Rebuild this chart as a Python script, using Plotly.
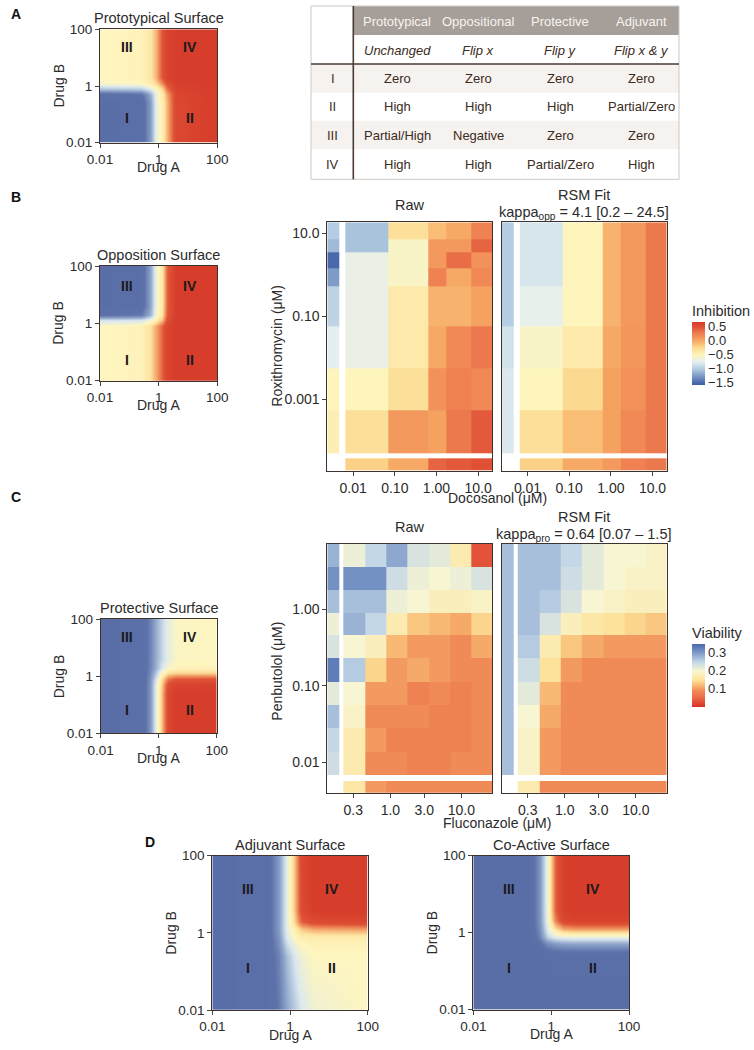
import plotly.graph_objects as go

W, H = 754, 1050
def px(x): return x / W
def py(y): return 1 - y / H

N = None
# ---------------- data ----------------
# Theoretical surfaces: log10 dose grid (Drug A = x, Drug B = y); 0 = blue, 0.5 = yellow, 1 = red
G = [-2, -0.6, -0.3, -0.1, 0.1, 0.3, 0.6, 2]
proto_z = [  # rows bottom -> top
    [0.00, 0.03, 0.22, 0.44, 0.54, 0.68, 0.92, 1],
    [0.00, 0.03, 0.22, 0.44, 0.54, 0.68, 0.92, 1],
    [0.05, 0.09, 0.26, 0.45, 0.56, 0.70, 0.93, 1],
    [0.30, 0.32, 0.40, 0.50, 0.60, 0.78, 0.95, 1],
    [0.48, 0.50, 0.55, 0.62, 0.74, 0.88, 0.98, 1],
    [0.50, 0.52, 0.58, 0.68, 0.85, 0.96, 1, 1],
    [0.50, 0.52, 0.58, 0.68, 0.85, 0.96, 1, 1],
    [0.50, 0.52, 0.58, 0.68, 0.85, 0.96, 1, 1],
]
oppo_z = [
    [0.50, 0.52, 0.60, 0.70, 0.82, 0.95, 1, 1],
    [0.50, 0.52, 0.60, 0.70, 0.82, 0.95, 1, 1],
    [0.50, 0.52, 0.60, 0.70, 0.82, 0.95, 1, 1],
    [0.50, 0.52, 0.60, 0.70, 0.82, 0.95, 1, 1],
    [0.38, 0.39, 0.46, 0.55, 0.66, 0.88, 1, 1],
    [0.10, 0.13, 0.28, 0.47, 0.60, 0.84, 1, 1],
    [0.00, 0.04, 0.24, 0.46, 0.58, 0.82, 1, 1],
    [0.00, 0.04, 0.24, 0.46, 0.58, 0.82, 1, 1],
]
prot_z = [
    [0, 0.03, 0.20, 0.43, 0.66, 0.92, 1, 1],
    [0, 0.03, 0.20, 0.43, 0.66, 0.92, 1, 1],
    [0, 0.03, 0.20, 0.43, 0.64, 0.88, 0.96, 0.97],
    [0, 0.03, 0.19, 0.39, 0.60, 0.78, 0.85, 0.86],
    [0, 0.03, 0.17, 0.33, 0.50, 0.60, 0.63, 0.63],
    [0, 0.03, 0.15, 0.28, 0.40, 0.48, 0.52, 0.52],
    [0, 0.03, 0.15, 0.27, 0.36, 0.43, 0.49, 0.50],
    [0, 0.03, 0.15, 0.27, 0.36, 0.43, 0.49, 0.50],
]
adju_z = [
    [0, 0.03, 0.12, 0.25, 0.33, 0.40, 0.46, 0.50],
    [0, 0.03, 0.15, 0.30, 0.40, 0.46, 0.50, 0.50],
    [0, 0.03, 0.18, 0.36, 0.45, 0.50, 0.52, 0.52],
    [0, 0.03, 0.20, 0.40, 0.50, 0.55, 0.56, 0.56],
    [0, 0.03, 0.22, 0.42, 0.55, 0.65, 0.70, 0.72],
    [0, 0.03, 0.22, 0.42, 0.62, 0.82, 0.90, 0.92],
    [0, 0.03, 0.22, 0.42, 0.65, 0.90, 1, 1],
    [0, 0.03, 0.22, 0.42, 0.65, 0.92, 1, 1],
]
coact_z = [
    [0, 0, 0, 0, 0, 0, 0, 0],
    [0, 0, 0, 0.02, 0.02, 0.02, 0.02, 0.02],
    [0, 0, 0.08, 0.18, 0.22, 0.24, 0.25, 0.25],
    [0, 0, 0.15, 0.35, 0.42, 0.44, 0.45, 0.45],
    [0, 0, 0.18, 0.42, 0.60, 0.70, 0.72, 0.72],
    [0, 0, 0.20, 0.45, 0.76, 0.92, 0.95, 0.95],
    [0, 0, 0.20, 0.46, 0.82, 0.98, 1, 1],
    [0, 0, 0.20, 0.46, 0.82, 0.98, 1, 1],
]

# Panel B: Docosanol (x) / Roxithromycin (y), log10 cell edges; inhibition values
B_x_edges = [-2.62, -2.34, -2.2, -1.16, -0.2, 0.24, 0.84, 1.34]
B_y_edges = [-4.73, -4.44, -4.32, -3.28, -2.25, -1.24, -0.27, 0.17, 0.54, 0.86, 1.27]
B_raw = [  # rows bottom -> top
    [N, N, -0.20, 0.00, 0.40, 0.45, 0.50],
    [N, N, N, N, N, N, N],
    [-0.45, N, -0.30, 0.10, 0.05, 0.30, 0.45],
    [-0.50, N, -0.50, -0.30, 0.15, 0.25, 0.20],
    [-0.75, N, -0.70, -0.40, 0.00, 0.20, 0.30],
    [-0.95, N, -0.70, -0.40, -0.05, -0.05, 0.05],
    [-1.25, N, -0.70, -0.55, 0.25, 0.00, 0.20],
    [-1.50, N, -0.70, -0.55, 0.10, 0.35, 0.15],
    [-1.10, N, -1.05, -0.55, 0.10, 0.10, 0.40],
    [-1.00, N, -1.05, -0.30, -0.10, 0.00, 0.25],
]
B_fit = [
    [N, N, -0.20, 0.00, 0.10, 0.25, 0.30],
    [N, N, N, N, N, N, N],
    [-0.80, N, -0.30, -0.10, 0.05, 0.20, 0.30],
    [-0.80, N, -0.50, -0.25, 0.05, 0.15, 0.30],
    [-0.85, N, -0.55, -0.40, 0.00, 0.12, 0.30],
    [-1.00, N, -0.72, -0.50, -0.05, 0.10, 0.30],
    [-1.00, N, -0.82, -0.50, -0.05, 0.10, 0.30],
    [-1.00, N, -0.82, -0.50, -0.05, 0.10, 0.30],
    [-1.00, N, -0.82, -0.50, -0.05, 0.10, 0.30],
    [-1.00, N, -0.82, -0.50, -0.05, 0.10, 0.30],
]
B_x_ticks = [-2, -1, 0, 1]
B_x_labels = ["0.01", "0.10", "1.00", "10.0"]
B_y_ticks = [1, -1, -3]
B_y_labels = ["10.0", "0.10", "0.001"]

# Panel C: Fluconazole (x) / Penbutolol (y), log10 cell edges; viability values
C_x_edges = [-0.889, -0.724, -0.664, -0.358, -0.062, 0.238, 0.548, 0.849, 1.145, 1.435]
C_y_edges = [-2.397, -2.244, -2.166, -1.861, -1.556, -1.251, -0.946, -0.641, -0.336,
             -0.052, 0.252, 0.557, 0.854]
C_raw = [  # rows bottom -> top
    [N, N, 0.16, 0.10, 0.09, 0.09, 0.09, 0.09, 0.09],
    [N, N, N, N, N, N, N, N, N],
    [0.24, N, 0.17, 0.09, 0.09, 0.08, 0.08, 0.09, 0.09],
    [0.25, N, 0.17, 0.10, 0.08, 0.08, 0.08, 0.08, 0.09],
    [0.27, N, 0.19, 0.09, 0.09, 0.09, 0.08, 0.08, 0.09],
    [0.22, N, 0.20, 0.10, 0.10, 0.08, 0.09, 0.08, 0.09],
    [0.33, N, 0.26, 0.14, 0.10, 0.11, 0.10, 0.09, 0.09],
    [0.23, N, 0.20, 0.18, 0.12, 0.10, 0.10, 0.09, 0.11],
    [0.21, N, 0.28, 0.25, 0.17, 0.13, 0.12, 0.11, 0.14],
    [0.27, N, 0.27, 0.27, 0.21, 0.20, 0.18, 0.18, 0.19],
    [0.31, N, 0.31, 0.31, 0.24, 0.21, 0.20, 0.21, 0.23],
    [0.28, N, 0.21, 0.25, 0.29, 0.23, 0.22, 0.17, 0.03],
]
C_fit = [
    [N, N, 0.17, 0.09, 0.09, 0.09, 0.09, 0.09, 0.09],
    [N, N, N, N, N, N, N, N, N],
    [0.27, N, 0.19, 0.10, 0.09, 0.09, 0.09, 0.09, 0.09],
    [0.27, N, 0.19, 0.10, 0.09, 0.09, 0.09, 0.09, 0.09],
    [0.27, N, 0.20, 0.11, 0.09, 0.09, 0.09, 0.09, 0.09],
    [0.27, N, 0.22, 0.12, 0.09, 0.09, 0.09, 0.09, 0.09],
    [0.27, N, 0.24, 0.15, 0.10, 0.09, 0.09, 0.09, 0.09],
    [0.27, N, 0.26, 0.17, 0.13, 0.11, 0.10, 0.10, 0.10],
    [0.27, N, 0.27, 0.23, 0.18, 0.16, 0.15, 0.14, 0.13],
    [0.27, N, 0.27, 0.26, 0.23, 0.20, 0.19, 0.18, 0.18],
    [0.27, N, 0.27, 0.27, 0.24, 0.22, 0.20, 0.19, 0.19],
    [0.27, N, 0.27, 0.27, 0.25, 0.22, 0.20, 0.20, 0.19],
]
C_x_ticks = [-0.5229, 0.0, 0.4771, 1.0]
C_x_labels = ["0.3", "1.0", "3.0", "10.0"]
C_y_ticks = [0, -1, -2]
C_y_labels = ["1.00", "0.10", "0.01"]

S_ticks = [-2, 0, 2]
S_labels = ["0.01", "1", "100"]

inh_ticks = [0.5, 0.0, -0.5, -1.0, -1.5]
inh_labels = ["0.5", "0.0", "\u22120.5", "\u22121.0", "\u22121.5"]
via_ticks = [0.3, 0.2, 0.1]
via_labels = ["0.3", "0.2", "0.1"]

tbl_cols = ["Prototypical", "Oppositional", "Protective", "Adjuvant"]
tbl_sub = ["Unchanged", "Flip x", "Flip y", "Flip x & y"]
tbl_rows = ["I", "II", "III", "IV"]
tbl_cells = [["Zero", "Zero", "Zero", "Zero"],
             ["High", "High", "High", "Partial/Zero"],
             ["Partial/High", "Negative", "Zero", "Zero"],
             ["High", "High", "Partial/Zero", "High"]]

# ---------------- styling ----------------
FONT = "Liberation Sans, Arial, sans-serif"
TXT = "#2b2b2b"
FRAME = "#3d322c"
SURF_CS = [[0, "#596da7"], [0.1, "#5d71a9"], [0.25, "#8ea5cb"], [0.4, "#dbe9ef"],
           [0.5, "#fef6c0"], [0.6, "#fde3a0"], [0.72, "#f29a62"], [0.85, "#df5236"],
           [1, "#d63d2b"]]
INH_CS = [[0, "#3e5fa8"], [0.035, "#4a69ad"], [0.257, "#b4cde2"], [0.37, "#e6eff0"],
          [0.478, "#fdf5bb"], [0.6, "#fcd68c"], [0.699, "#f6a964"], [0.82, "#ee7d50"],
          [0.92, "#df5035"], [1, "#d63c2a"]]
VIA_CS = [[0, "#d73027"], [0.143, "#ea6a45"], [0.257, "#f08a56"], [0.34, "#f8b873"],
          [0.43, "#fde39c"], [0.571, "#f8f6d2"], [0.714, "#c3d7e7"], [0.857, "#7f9bc9"],
          [1, "#4a69ad"]]

fig = go.Figure()
annos = []
shapes = []

def txt(x, y, s, size=14, color=TXT, xanchor="center", yanchor="middle", angle=0, bold=False):
    if bold:
        s = "<b>" + s + "</b>"
    annos.append(dict(x=px(x), y=py(y), xref="paper", yref="paper", text=s, showarrow=False,
                      xanchor=xanchor, yanchor=yanchor, textangle=angle,
                      font=dict(size=size, color=color, family=FONT)))

def add_axes(i, box, xr, yr, xt, xtt, yt, ytt, fs):
    x0, x1, y0, y1 = box
    name = "" if i == 1 else str(i)
    common = dict(showline=True, mirror=True, linecolor=FRAME, linewidth=1, showgrid=False,
                  zeroline=False, fixedrange=True, automargin=False,
                  tickfont=dict(size=fs, color=TXT, family=FONT),
                  tickcolor="#444", ticklen=4, tickwidth=1)
    xa = dict(domain=[px(x0), px(x1)], range=xr, anchor="y" + name, tickvals=xt, ticktext=xtt,
              ticks="outside" if xt else "", **common)
    ya = dict(domain=[py(y1), py(y0)], range=yr, anchor="x" + name, tickvals=yt, ticktext=ytt,
              ticks="outside" if yt else "", showticklabels=bool(yt), **common)
    fig.update_layout(**{"xaxis" + name: xa, "yaxis" + name: ya})
    return "x" + name, "y" + name

# ---------- surfaces ----------
surfaces = [
    (1, (100, 217.3, 29.3, 142.7), proto_z, "Prototypical Surface", 1.39, -1.14),
    (2, (100, 217.3, 266, 380.7), oppo_z, "Opposition Surface", 1.3, -1.28),
    (3, (100.7, 216.7, 619, 733.3), prot_z, "Protective Surface", 1.36, -1.2),
    (4, (212.3, 367.7, 855.7, 1010), adju_z, "Adjuvant Surface", 1.13, -0.92),
    (5, (473.3, 629, 855.7, 1009.5), coact_z, "Co-Active Surface", 1.13, -0.92),
]
for i, box, z, title, ytop, ybot in surfaces:
    xa, ya = add_axes(i, box, [-2, 2], [-2, 2], S_ticks, S_labels, S_ticks, S_labels, 13.5)
    fig.add_trace(go.Heatmap(x=G, y=G, z=z, zsmooth="best", coloraxis="coloraxis3",
                             xaxis=xa, yaxis=ya, hoverinfo="skip"))
    x0, x1, y0, y1 = box
    txt((x0 + x1) / 2, y0 - 11, title, size=14.5)
    txt((x0 + x1) / 2, y1 + 24.5, "Drug A", size=14)
    txt(x0 - 41.5, (y0 + y1) / 2, "Drug B", size=14, angle=-90)
    for lab, lx, ly in [("III", -1.08, ytop), ("IV", 1.08, ytop), ("I", -1.08, ybot), ("II", 1.08, ybot)]:
        annos.append(dict(x=lx, y=ly, xref=xa, yref=ya, text="<b>" + lab + "</b>", showarrow=False,
                          font=dict(size=14, color="#1a1a1a", family=FONT)))

# ---------- heatmaps ----------
hm = [
    (6, (327.3, 492.3, 222.3, 470.7), B_x_edges, B_y_edges, B_raw, "coloraxis", True),
    (7, (501.7, 666.7, 222.3, 470.7), B_x_edges, B_y_edges, B_fit, "coloraxis", False),
    (8, (327.3, 492.3, 544, 792.7), C_x_edges, C_y_edges, C_raw, "coloraxis2", True),
    (9, (501.7, 666.7, 544, 792.7), C_x_edges, C_y_edges, C_fit, "coloraxis2", False),
]
for i, box, xe, ye, z, cax, showy in hm:
    if cax == "coloraxis":
        xt, xtt, yt, ytt = B_x_ticks, B_x_labels, B_y_ticks, B_y_labels
    else:
        xt, xtt, yt, ytt = C_x_ticks, C_x_labels, C_y_ticks, C_y_labels
    if not showy:
        yt, ytt = [], []
    xa, ya = add_axes(i, box, [xe[0], xe[-1]], [ye[0], ye[-1]], xt, xtt, yt, ytt, 14)
    fig.add_trace(go.Heatmap(x=xe, y=ye, z=z, coloraxis=cax, xaxis=xa, yaxis=ya,
                             hoverinfo="skip"))

# heatmap titles
txt(409.8, 205, "Raw", size=14.5)
txt(584.2, 195, "RSM Fit", size=14.5)
txt(584.2, 213, "kappa<sub>opp</sub> = 4.1 [0.2 \u2013 24.5]", size=14.5)
txt(409.8, 527, "Raw", size=14.5)
txt(584.2, 517, "RSM Fit", size=14.5)
txt(584.2, 535, "kappa<sub>pro</sub> = 0.64 [0.07 \u2013 1.5]", size=14.5)
txt(497, 497.5, "Docosanol (\u03bcM)", size=14)
txt(497, 823, "Fluconazole (\u03bcM)", size=14)
txt(276.7, 346, "Roxithromycin (\u03bcM)", size=14, angle=-90)
txt(276.7, 671, "Penbutolol (\u03bcM)", size=14, angle=-90)
txt(689.5, 310.5, "Inhibition", size=14.5, xanchor="left")
txt(689.5, 633, "Viability", size=14.5, xanchor="left")

# panel letters
txt(9, 14, "A", size=14, bold=True, xanchor="left", color="#111")
txt(9, 197, "B", size=14, bold=True, xanchor="left", color="#111")
txt(9, 497, "C", size=14, bold=True, xanchor="left", color="#111")
txt(143, 842, "D", size=14, bold=True, xanchor="left", color="#111")

# ---------- table ----------
TX0, TX1, TY0, TY1 = 311, 679, 6, 179.3
VX = 353.3
col_cx = [397.3, 478.3, 560, 641.7]
row_cy = [78.3, 106.7, 135, 164.3]
row_edges = [64, 92.7, 120.7, 149.3, 179.3]
TCOL = "#3b2b22"

def rect(x0, y0, x1, y1, fill=None, line=None, lw=1):
    shapes.append(dict(type="rect", xref="paper", yref="paper", x0=px(x0), x1=px(x1),
                       y0=py(y1), y1=py(y0), fillcolor=fill if fill else "rgba(0,0,0,0)",
                       line=dict(color=line if line else "rgba(0,0,0,0)", width=lw), layer="below"))

def hline(x0, x1, y, color, lw):
    shapes.append(dict(type="line", xref="paper", yref="paper", x0=px(x0), x1=px(x1),
                       y0=py(y), y1=py(y), line=dict(color=color, width=lw)))

for k in range(4):
    if k % 2 == 0:
        rect(TX0, row_edges[k], TX1, row_edges[k + 1], fill="#f6f2ef")
rect(VX, TY0, TX1, 35, fill="#a69e98")
rect(TX0, TY0, TX1, TY1, line="#cfc8c3", lw=1)
hline(TX0, TX1, 64, "#4a3b33", 1.6)
shapes.append(dict(type="line", xref="paper", yref="paper", x0=px(VX), x1=px(VX),
                   y0=py(TY0), y1=py(TY1), line=dict(color="#4a3b33", width=1.6)))

for j, name in enumerate(tbl_cols):
    txt(col_cx[j], 21, name, size=13, color="#f7f3f0")
    txt(col_cx[j], 50, "<i>" + tbl_sub[j] + "</i>", size=13, color=TCOL)
for r, rname in enumerate(tbl_rows):
    txt(332.7, row_cy[r], rname, size=13, color=TCOL)
    for j in range(4):
        txt(col_cx[j], row_cy[r], tbl_cells[r][j], size=13, color=TCOL)

# ---------- layout ----------
cb_common = dict(xanchor="left", yanchor="middle", lenmode="pixels", len=63,
                 thicknessmode="pixels", thickness=13, outlinewidth=0, ticks="",
                 tickfont=dict(size=13, color=TXT, family=FONT), xpad=0, ypad=0)
fig.update_layout(
    width=W, height=H, margin=dict(l=0, r=0, t=0, b=0, pad=0, autoexpand=False),
    paper_bgcolor="white", plot_bgcolor="white", showlegend=False,
    font=dict(family=FONT, color=TXT),
    coloraxis=dict(colorscale=INH_CS, cmin=-1.58, cmax=0.68,
                   colorbar=dict(x=px(691.7), y=py(353.3), tickvals=inh_ticks,
                                 ticktext=inh_labels, **cb_common)),
    coloraxis2=dict(colorscale=VIA_CS, cmin=0.0, cmax=0.35,
                    colorbar=dict(x=px(691.7), y=py(675), tickvals=via_ticks,
                                  ticktext=via_labels, **cb_common)),
    coloraxis3=dict(colorscale=SURF_CS, cmin=0, cmax=1, showscale=False),
    annotations=annos, shapes=shapes,
)
fig.write_html("out.html", config={"displayModeBar": False, "staticPlot": True},
               post_script="document.body.style.margin='0px';document.body.style.padding='0px';"
                           "document.body.style.overflow='hidden';")
